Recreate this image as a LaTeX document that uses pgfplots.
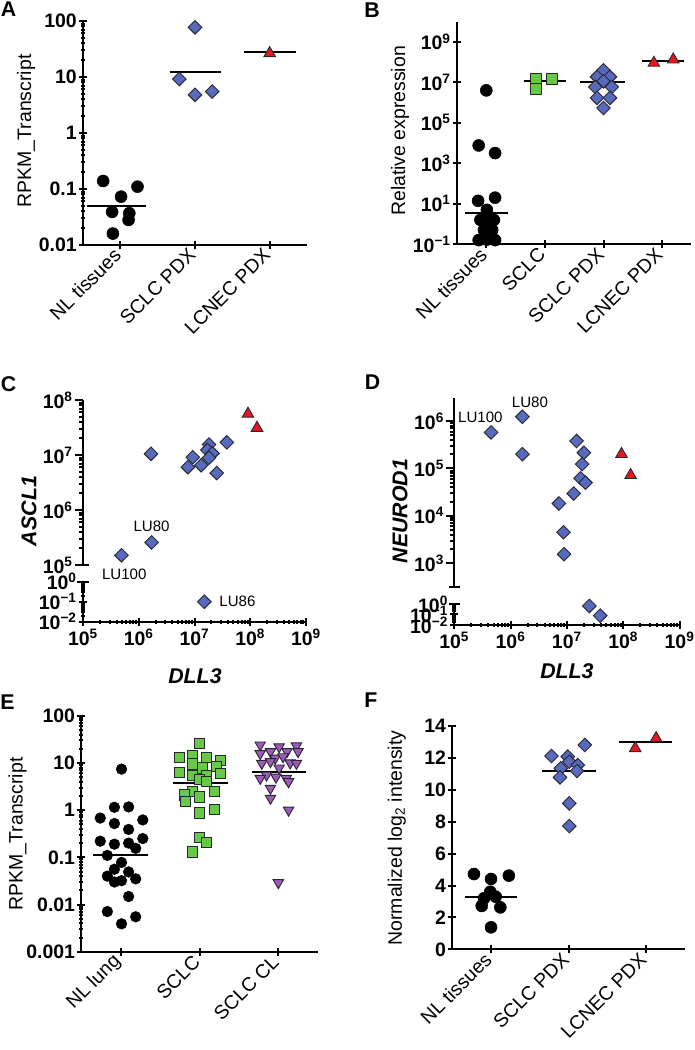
\documentclass[border=0pt]{standalone}
\usepackage{fontspec}
\setmainfont{Liberation Sans}
\usepackage{pgfplots}
\pgfplotsset{compat=1.18}
\definecolor{cblue}{RGB}{88,106,190}
\definecolor{cgreen}{RGB}{104,200,72}
\definecolor{cred}{RGB}{232,22,30}
\definecolor{cpurple}{RGB}{158,92,186}
\definecolor{cedge}{RGB}{40,40,50}
\newcommand\tf{\fontsize{14.6}{17}\selectfont}
\newcommand\gf{\fontsize{16}{19}\selectfont\bfseries\itshape}
\newcommand\lf{\fontsize{11.3}{13}\selectfont}
\pgfplotsset{
  base/.style={
    scale only axis, clip=false,
    axis line style={line width=1.5pt},
    tick style={line width=1.5pt,black},
    major tick length=6pt,
    tick align=outside,
    tick label style={font=\tf\bfseries},
    yticklabel style={inner xsep=1.5pt},
    xticklabel style={inner ysep=2pt},
    label style={font=\tf},
    minor tick num=0,
  },
  noarr/.style={x axis line style={-}, y axis line style={-},
    every outer x axis line/.append style={-}, every outer y axis line/.append style={-},
    every inner x axis line/.append style={-}, every inner y axis line/.append style={-}},
  cat/.style={base, axis lines=left, noarr, xmin=-0.5, xmax=2.5, xtick={0,1,2},
     xticklabel style={rotate=45, anchor=east, font=\tf, inner sep=3pt}},
  dots/.style={only marks, mark=*, mark size=4.5pt, mark options={fill=black,draw=black}},
  dia/.style={only marks, mark=square*, mark size=3.6pt, mark options={rotate=45, fill=cblue, draw=cedge, line width=0.7pt}},
  sq/.style={only marks, mark=square*, mark size=4.3pt, mark options={fill=cgreen, draw=cedge, line width=0.7pt}},
  tri/.style={only marks, mark=triangle*, mark size=5pt, mark options={fill=cred, draw=cedge, line width=0.7pt}},
  dtri/.style={only marks, mark=triangle*, mark size=4.5pt, mark options={rotate=180, fill=cpurple, draw=cedge, line width=0.7pt}},
  med/.style={black, line width=1.5pt, mark=none},
  cap/.style={extra y tick labels={}, extra y tick style={tick align=center, major tick length=9pt}},
}
\begin{document}
\begin{tikzpicture}
\path[use as bounding box] (0,0) rectangle (520.5pt,787.5pt);
% panel letters
\node[font=\fontsize{16}{19}\selectfont\bfseries] at (6.4pt,780.4pt) {A};
\node[font=\fontsize{16}{19}\selectfont\bfseries] at (279pt,779.6pt) {B};
\node[font=\fontsize{16}{19}\selectfont\bfseries] at (6.4pt,499.1pt) {C};
\node[font=\fontsize{16}{19}\selectfont\bfseries] at (279.4pt,500.6pt) {D};
\node[font=\fontsize{16}{19}\selectfont\bfseries] at (5.6pt,260.6pt) {E};
\node[font=\fontsize{16}{19}\selectfont\bfseries] at (278.25pt,262.1pt) {F};

% ---------------- A ----------------
\begin{axis}[cat, at={(62.25pt,603.75pt)}, anchor=south west, width=168pt, height=168pt,
  ymode=log, ymin=0.01, ymax=100, ytick={0.01,0.1,1,10,100}, yticklabels={0.01,0.1,1,10,100},
  xticklabels={NL tissues,SCLC PDX,LCNEC PDX},
  ylabel={RPKM\_Transcript}, ylabel style={at={(axis description cs:-0.254,0.509)}, anchor=center}, noarr]
\addplot[dots] coordinates {(-0.23,0.139) (0.23,0.11) (0.01,0.073) (-0.11,0.039) (0.12,0.037) (0.11,0.028) (-0.10,0.016)};
\addplot[med] coordinates {(-0.45,0.05) (0.35,0.05)};
\addplot[dia] coordinates {(1.0,77) (0.79,9.2) (1.0,4.8) (1.23,5.5)};
\addplot[med] coordinates {(0.66,12.1) (1.35,12.1)};
\addplot[med] coordinates {(1.65,27.5) (2.35,27.5)};
\addplot[tri] coordinates {(2.0,26.5)};
\end{axis}

% ---------------- B ----------------
\begin{axis}[base, axis lines=left, at={(342.75pt,604.3pt)}, anchor=south west, width=175.8pt, height=167pt,
  xmin=-0.5, xmax=3.5, xtick={0,1,2,3},
  xticklabel style={rotate=45, anchor=east, font=\tf, inner sep=3pt},
  xticklabels={NL tissues,SCLC,SCLC PDX,LCNEC PDX},
  ymode=log, ymin=0.1, ymax=1e10, ytick={1e-1,1e1,1e3,1e5,1e7,1e9},
  yticklabels={10\textsuperscript{−1},10\textsuperscript{1},10\textsuperscript{3},10\textsuperscript{5},10\textsuperscript{7},10\textsuperscript{9}},
  ylabel={Relative expression}, ylabel style={at={(axis description cs:-0.243,0.509)}, anchor=center}, noarr]
\addplot[dots] coordinates {(0,4e6) (-0.13,7.6e3) (0.15,3.2e3) (-0.14,14) (0.15,20) (0.01,5)
  (-0.10,1.6) (0.13,1.6) (-0.04,0.51) (0.10,0.51) (-0.13,0.16) (0.15,0.16) (0.01,0.17) (0.01,0.8) (0.02,2.5)};
\addplot[med] coordinates {(-0.36,3.4) (0.37,3.4)};
\addplot[sq] coordinates {(0.85,1.35e7) (0.85,4.7e6) (1.12,1.5e7)};
\addplot[med] coordinates {(0.65,1.2e7) (1.36,1.2e7)};
\addplot[dia] coordinates {(2,3.9e7) (1.89,1.86e7) (2.11,1.86e7) (2,1.12e7) (1.86,5.9e6) (2.14,5.9e6) (1.89,1.7e6) (2.11,1.7e6) (2,5.4e5)};
\addplot[med] coordinates {(1.60,1.05e7) (2.37,1.05e7)};
\addplot[med] coordinates {(2.66,1.17e8) (3.38,1.17e8)};
\addplot[tri] coordinates {(2.86,9.1e7) (3.19,1.32e8)};
\end{axis}

% ---------------- C upper ----------------
\begin{axis}[base, cap, at={(62.25pt,363.75pt)}, anchor=south west, width=167.25pt, height=123.75pt,
  xmode=log, ymode=log, xmin=1e5, xmax=1e9, ymin=1e5, ymax=1e8,
  hide x axis, axis y line*=left,
  ytick={1e5,1e6,1e7,1e8},
  yticklabels={10\textsuperscript{5},10\textsuperscript{6},10\textsuperscript{7},10\textsuperscript{8}},
  extra y ticks={1e5},
  ylabel={ASCL1}, ylabel style={font=\gf, at={(axis description cs:-0.242,0.327)}, anchor=center}, noarr]
\addplot[dia] coordinates {(1.66e6,1.05e7) (7.6e6,6.0e6) (9.3e6,9.1e6) (1.32e7,6.5e6) (1.82e7,1.55e7)
  (1.7e7,1.23e7) (2.1e7,1.07e7) (1.82e7,8.9e6) (2.5e7,4.7e6) (3.8e7,1.7e7) (1.7e6,2.57e5) (4.9e5,1.5e5)};
\addplot[tri] coordinates {(9.1e7,5.6e7) (1.32e8,3.1e7)};
\node[font=\lf] at (axis cs:1.7e6,5.0e5) {LU80};
\node[font=\lf] at (axis cs:5.5e5,6.9e4) {LU100};
\end{axis}
% ---------------- C lower ----------------
\begin{axis}[base, cap, at={(62.25pt,321.2pt)}, anchor=south west, width=167.25pt, height=30pt,
  xmode=log, ymode=log, xmin=1e5, xmax=1e9, ymin=1e-2, ymax=1,
  axis lines=left,
  xtick={1e5,1e6,1e7,1e8,1e9},
  xticklabels={10\textsuperscript{5},10\textsuperscript{6},10\textsuperscript{7},10\textsuperscript{8},10\textsuperscript{9}},
  ytick={1e-2,1e-1,1},
  yticklabels={10\textsuperscript{−2},10\textsuperscript{−1},10\textsuperscript{0}},
  extra y ticks={1},
  xlabel={DLL3}, xlabel style={font=\gf, at={(axis description cs:0.502,-1.35)}, anchor=center}, noarr]
\addplot[dia] coordinates {(1.5e7,0.1)};
\node[font=\lf, anchor=west] at (axis cs:2.3e7,0.105) {LU86};
\end{axis}

% ---------------- D upper ----------------
\begin{axis}[base, at={(340.7pt,347.3pt)}, anchor=south west, width=169pt, height=141.5pt,
  xmode=log, ymode=log, xmin=1e5, xmax=1e9, ymin=316.2, ymax=3.02e6,
  hide x axis, axis y line*=left,
  ytick={1e3,1e4,1e5,1e6},
  yticklabels={10\textsuperscript{3},10\textsuperscript{4},10\textsuperscript{5},10\textsuperscript{6}},
  extra y ticks={316.2}, extra y tick labels={}, extra y tick style={tick align=center, major tick length=8pt},
  ylabel={NEUROD1}, ylabel style={font=\gf, at={(axis description cs:-0.241,0.402)}, anchor=center}, noarr]
\addplot[dia] coordinates {(4.5e5,5.75e5) (1.62e6,1.23e6) (1.62e6,2.0e5) (1.48e7,3.8e5) (2.0e7,2.14e5)
  (1.86e7,1.23e5) (1.74e7,6.2e4) (2.14e7,5.0e4) (1.32e7,2.95e4) (7.2e6,1.82e4) (8.7e6,4.5e3) (8.9e6,1.55e3)};
\addplot[tri] coordinates {(9.3e7,2.0e5) (1.35e8,7.2e4)};
\node[font=\lf] at (axis cs:2.9e5,1.2e6) {LU100};
\node[font=\lf] at (axis cs:2.2e6,2.47e6) {LU80};
\end{axis}
% ---------------- D lower ----------------
\begin{axis}[base, at={(340.7pt,318.75pt)}, anchor=south west, width=169pt, height=15.75pt,
  xmode=log, ymode=log, xmin=1e5, xmax=1e9, ymin=1e-2, ymax=1,
  axis lines=left,
  xtick={1e5,1e6,1e7,1e8,1e9},
  xticklabels={10\textsuperscript{5},10\textsuperscript{6},10\textsuperscript{7},10\textsuperscript{8},10\textsuperscript{9}},
  ytick={1e-2,1e-1,1},
  yticklabels={10\textsuperscript{−2},10\textsuperscript{−1},10\textsuperscript{0}},
  extra y ticks={1}, extra y tick labels={}, extra y tick style={tick align=center, major tick length=8pt},
  xlabel={DLL3}, xlabel style={font=\gf, at={(axis description cs:0.5,-2.22)}, anchor=center}, noarr]
\addplot[dia] coordinates {(2.5e7,0.65) (3.9e7,0.078)};
\end{axis}

% ---------------- E ----------------
\begin{axis}[cat, at={(61pt,73.7pt)}, anchor=south west, width=177.3pt, height=177pt,
  ymode=log, ymin=0.001, ymax=100, ytick={0.001,0.01,0.1,1,10,100}, yticklabels={0.001,0.01,0.1,1,10,100},
  xticklabels={NL lung,SCLC,SCLC CL},
  ylabel={RPKM\_Transcript}, ylabel style={at={(axis description cs:-0.27,0.499)}, anchor=center}, noarr]
\addplot[dots, mark size=4pt] coordinates {(0.01,7.4) (-0.08,1.15) (0.10,1.17) (-0.26,0.68) (-0.08,0.52) (0.28,0.62)
  (0.10,0.39) (-0.26,0.22) (-0.08,0.19) (0.10,0.20) (0.28,0.25) (0.19,0.155) (-0.17,0.11) (0.01,0.078)
  (-0.08,0.056) (-0.17,0.040) (0.10,0.049) (-0.08,0.030) (0.01,0.032) (0.19,0.035) (0.10,0.0148)
  (-0.17,0.0071) (0.19,0.0055) (0.01,0.0039)};
\addplot[med] coordinates {(-0.35,0.112) (0.35,0.112)};
\addplot[sq, mark size=3.8pt] coordinates {(1.0,26) (0.75,13.2) (0.91,14.1) (1.09,13.2) (1.27,11.5) (0.91,9.5)
  (1.04,7.8) (1.22,8.3) (0.75,6.2) (0.91,5.5) (1.09,5.5) (1.27,6.0) (1.0,4.4) (1.09,4.0) (0.91,2.45)
  (1.19,2.45) (0.81,2.1) (1.0,1.9) (0.82,1.5) (1.0,0.87) (1.19,1.05) (1.0,0.26) (1.09,0.21) (0.91,0.13)};
\addplot[med] coordinates {(0.66,3.7) (1.36,3.7)};
\addplot[dtri] coordinates {(1.77,24) (2.01,21.9) (2.23,22.9) (1.90,17.4) (2.11,17.4) (1.77,15.8) (2.25,17.4)
  (1.96,12.6) (2.06,13.5) (1.79,9.8) (2.15,10) (1.90,10.7) (2.23,9.8) (2.01,7.8) (1.85,5.5) (1.97,5.0)
  (2.10,4.7) (1.77,4.7) (2.13,4.0) (1.90,2.9) (1.90,1.78) (2.13,1.0) (2.0,0.029)};
\addplot[med] coordinates {(1.66,6.3) (2.35,6.3)};
\end{axis}

% ---------------- F ----------------
\begin{axis}[cat, at={(339.2pt,75.5pt)}, anchor=south west, width=174.4pt, height=167.5pt,
  ymin=0, ymax=14, ytick={0,2,4,6,8,10,12,14}, yticklabels={0,2,4,6,8,10,12,14},
  xticklabels={NL tissues,SCLC PDX,LCNEC PDX},
  ylabel={Normalized log\textsubscript{2} intensity}, ylabel style={at={(axis description cs:-0.238,0.498)}, anchor=center}, noarr]
\addplot[dots] coordinates {(-0.22,4.72) (0,4.41) (0.23,4.62) (-0.01,3.61) (-0.09,3.20) (0.06,3.30) (-0.12,2.72) (0.12,2.63) (0,1.38)};
\addplot[med] coordinates {(-0.34,3.30) (0.34,3.30)};
\addplot[dia] coordinates {(0.78,12.12) (1.21,12.81) (0.99,12.08) (1.01,11.76) (0.90,11.35) (1.12,11.55) (1.11,11.18) (0.89,10.78) (1.01,9.15) (1.01,7.73)};
\addplot[med] coordinates {(0.66,11.18) (1.35,11.18)};
\addplot[med] coordinates {(1.65,12.98) (2.34,12.98)};
\addplot[tri] coordinates {(1.86,12.60) (2.13,13.23)};
\end{axis}
\end{tikzpicture}
\end{document}
